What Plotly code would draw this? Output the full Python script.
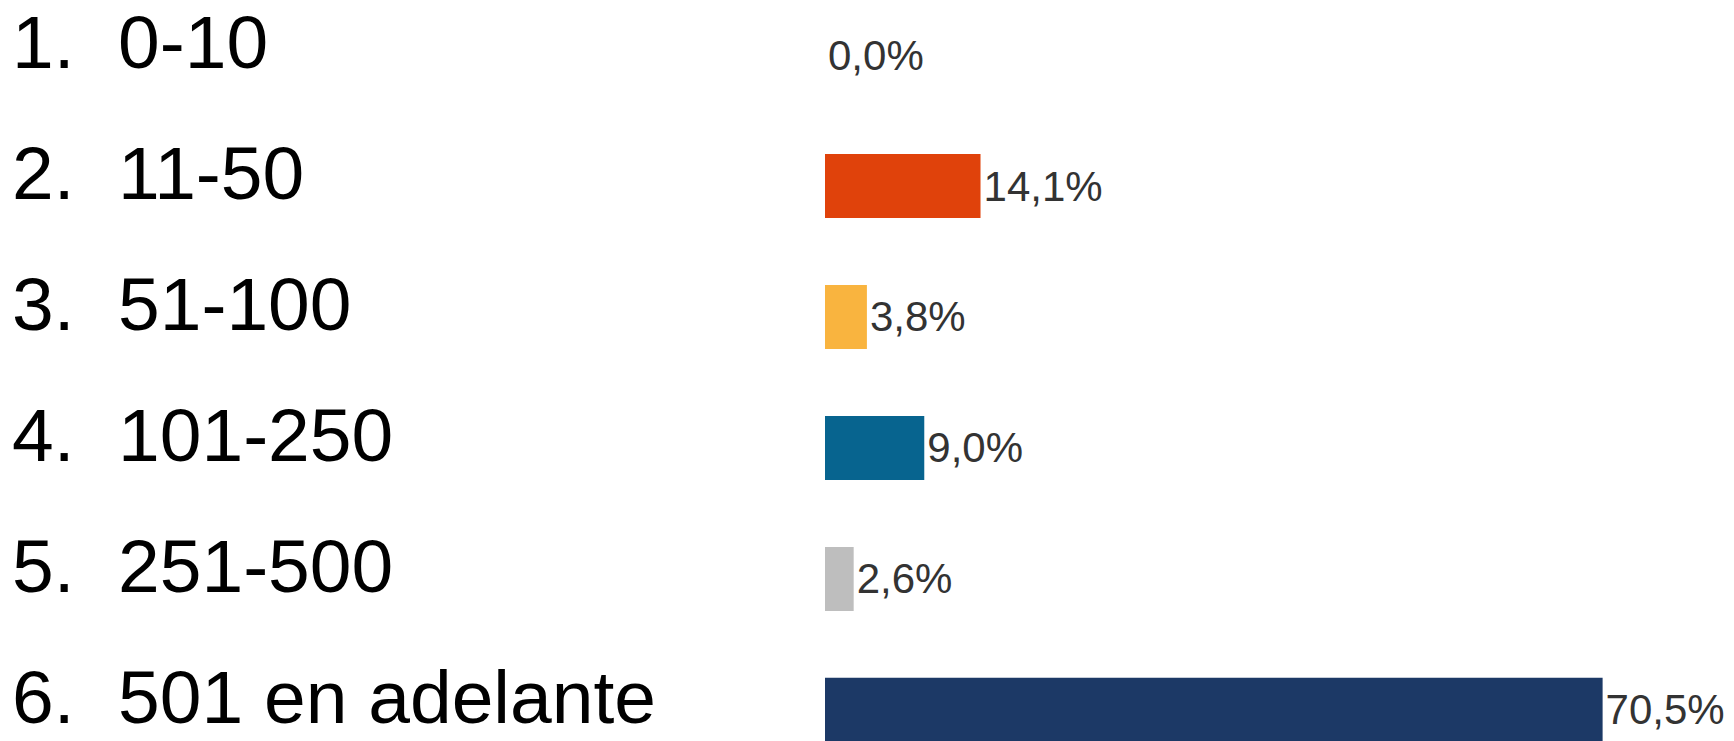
import plotly.graph_objects as go

numbers = ["1.", "2.", "3.", "4.", "5.", "6."]
categories = ["0-10", "11-50", "51-100", "101-250", "251-500", "501 en adelante"]
values = [0.0, 14.1, 3.8, 9.0, 2.6, 70.5]
colors = ["#E0420B", "#E0420B", "#F9B43F", "#07648F", "#BEBEBE", "#1C3966"]
value_labels = [f"{v:.1f}%".replace(".", ",") for v in values]

W, H = 1734, 741
x0 = 825

fig = go.Figure()
fig.add_trace(go.Bar(
    y=categories, x=values, orientation="h",
    marker=dict(color=colors, line=dict(width=0)),
    width=0.49,
    text=value_labels, textposition="outside",
    textfont=dict(family="Liberation Sans, Arial, sans-serif", size=42, color="#333333"),
    cliponaxis=False, constraintext="none",
    hoverinfo="skip",
))

for num, cat in zip(numbers, categories):
    fig.add_annotation(x=10 / W, xref="paper", y=cat, yref="y", text=num,
                       showarrow=False, xanchor="left", yanchor="middle", yshift=13,
                       font=dict(family="Liberation Sans, Arial, sans-serif", size=75, color="#000000"))
    fig.add_annotation(x=116 / W, xref="paper", y=cat, yref="y", text=cat,
                       showarrow=False, xanchor="left", yanchor="middle", yshift=13,
                       font=dict(family="Liberation Sans, Arial, sans-serif", size=75, color="#000000"))

fig.update_layout(
    width=W, height=H,
    margin=dict(l=0, r=0, t=0, b=0),
    paper_bgcolor="white", plot_bgcolor="white",
    showlegend=False,
    xaxis=dict(domain=[x0 / W, 1], range=[0, (W - x0) / 11.03], visible=False, fixedrange=True),
    yaxis=dict(type="category", categoryorder="array", categoryarray=categories,
               range=[5.237, -0.42], visible=False, fixedrange=True),
)

fig.write_html("out.html")
